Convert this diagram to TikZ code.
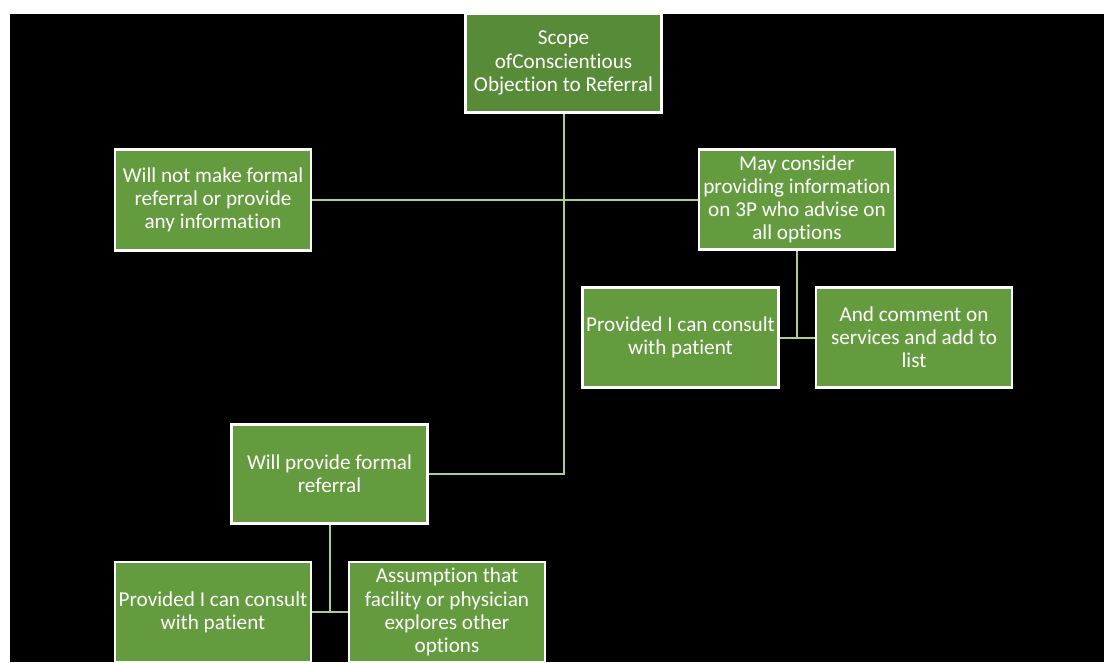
\documentclass[tikz,border=0pt]{standalone}
\usepackage{fontspec}
\setmainfont{Carlito}[Ligatures={NoCommon,NoContextual}]
\definecolor{boxgreen}{HTML}{659B3F}
\definecolor{topgreen}{HTML}{588B38}
\definecolor{linkgreen}{HTML}{A9D08E}
\begin{document}
\begin{tikzpicture}[x=0.75pt,y=-0.75pt,
  box/.style={draw=white,line width=2.2pt,fill=boxgreen,text=white,
    align=center,inner sep=0pt,minimum width=147pt,minimum height=74pt,
    font=\fontsize{15.9}{17.4}\selectfont},
  link/.style={draw=linkgreen,line width=1.5pt}]
  % page and black panel
  \fill[white] (0,0) rectangle (1104,662);
  \useasboundingbox (0,0) rectangle (1104,662);
  \clip (0,0) rectangle (1104,662);
  \fill[black] (10,14) rectangle (1104,662);

  % boxes
  \node[box,fill=topgreen] (scope) at (563.5,63) {Scope\\ofConscientious\\Objection to Referral};
  \node[box,minimum height=76pt] (nomake) at (213,200) {Will not make formal\\referral or provide\\any information};
  \node[box,minimum height=75pt] (mayconsider) at (797,199.5) {May consider\\providing information\\on 3P who advise on\\all options};
  \node[box,minimum height=75pt] (consultA) at (680.5,337.5) {Provided I can consult\\with patient};
  \node[box,minimum height=75pt] (comment) at (914,337.5) {And comment on\\services and add to\\list};
  \node[box] (provide) at (329.5,474) {Will provide formal\\referral};
  \node[box,minimum height=75pt] (consultB) at (213,612) {Provided I can consult\\with patient};
  \node[box,minimum height=75pt] (assume) at (447,612) {Assumption that\\facility or physician\\explores other\\options};

  % connectors
  \draw[link] (scope.south) |- (provide.east);
  \draw[link] (nomake.east) -- (mayconsider.west |- nomake.east);
  \draw[link] (mayconsider.south) |- (consultA.east);
  \draw[link] (mayconsider.south) |- (comment.west);
  \draw[link] (provide.south) |- (consultB.east);
  \draw[link] (provide.south) |- (assume.west);
\end{tikzpicture}
\end{document}
